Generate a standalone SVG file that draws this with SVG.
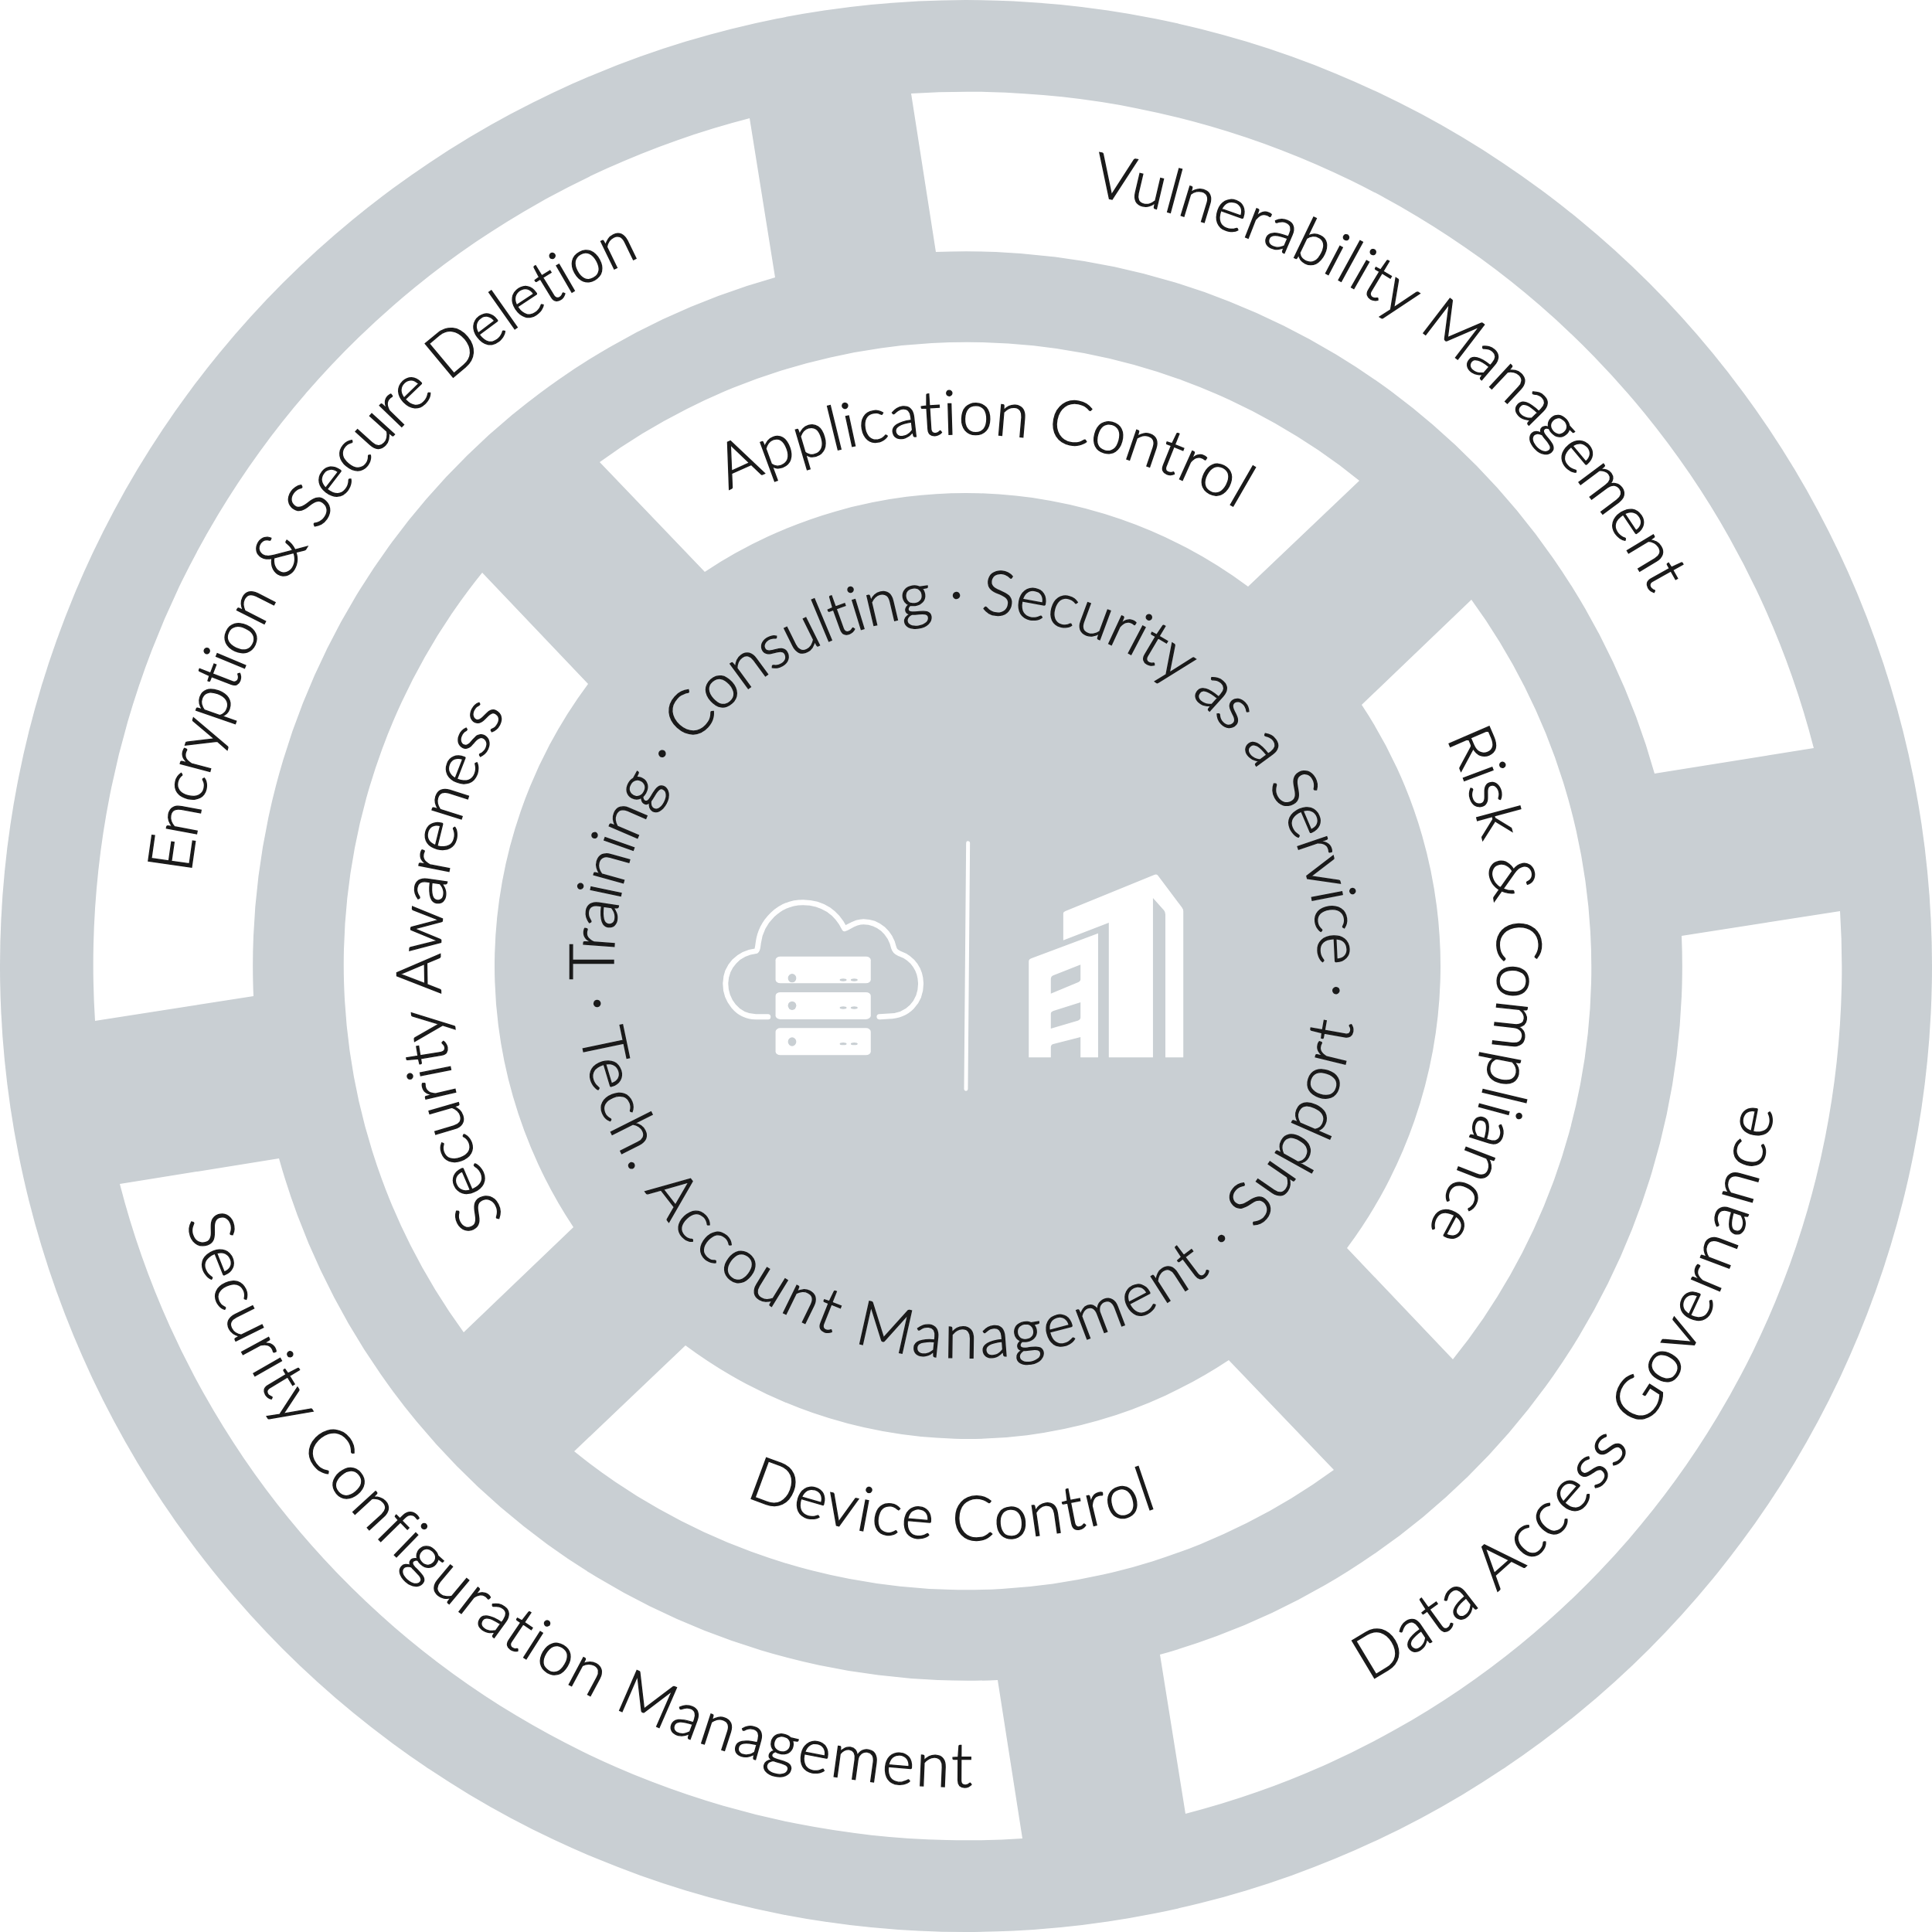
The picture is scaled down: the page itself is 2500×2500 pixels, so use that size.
<svg xmlns="http://www.w3.org/2000/svg" width="2500" height="2500" viewBox="0 0 2500 2500">
<style>
.seg{fill:#fff}
.lbl{font-family:"Lato","Open Sans","Liberation Sans",sans-serif;font-size:80px;font-weight:300;fill:#1a1a1a;stroke:#1a1a1a;stroke-width:1.4px;font-variant-ligatures:none}
.hole{fill:#c9cfd3}
.w{fill:#fff}
.ln{fill:none;stroke:#fff;stroke-linecap:round;stroke-linejoin:round;vector-effect:non-scaling-stroke}
</style>
<defs>
<path id="o1010" d="M1250,240 A1010,1010 0 1 1 1250,2260 A1010,1010 0 1 1 1250,240"/>
<path id="u1062" d="M1250,2312 A1062,1062 0 1 0 1250,188 A1062,1062 0 1 0 1250,2312"/>
<path id="o688" d="M1250,562 A688,688 0 1 1 1250,1938 A688,688 0 1 1 1250,562"/>
<path id="o680" d="M1250,570 A680,680 0 1 1 1250,1930 A680,680 0 1 1 1250,570"/>
<path id="u743" d="M1250,1993 A743,743 0 1 0 1250,507 A743,743 0 1 0 1250,1993"/>
<path id="o456" d="M1250,794 A456,456 0 1 1 1250,1706 A456,456 0 1 1 1250,794"/>
<path id="u507" d="M1250,1757 A507,507 0 1 0 1250,743 A507,507 0 1 0 1250,1757"/>
<path id="outerSeg" d="M1179,121 A1131,1131 0 0 1 2347,968 L2141,1001 A925,925 0 0 0 1211,326 Z"/>
<path id="innerSeg" d="M776,598 A807,807 0 0 1 1759,622 L1615,759 A611,611 0 0 0 912,740 Z"/>
</defs>
<rect width="2500" height="2500" fill="#fff"/>
<circle id="disc" cx="1250" cy="1250" r="1250" fill="#c9cfd3"/>
<g id="vulnerability"><use href="#outerSeg" class="seg"/><text class="lbl" transform="rotate(9.2 1250 1250)"><textPath href="#o1010" textLength="923">Vulnerability Management</textPath></text></g>
<g id="data-access"><use href="#outerSeg" class="seg" transform="translate(2 0) rotate(90 1250 1250)"/><text class="lbl" transform="rotate(-29.4 1250 1250)"><textPath href="#u1062" textLength="937">Data Access Governance</textPath></text></g>
<g id="security-config"><use href="#outerSeg" class="seg" transform="translate(2 0) rotate(180 1250 1250)"/><text class="lbl" transform="rotate(71.9 1250 1250)"><textPath href="#u1062" textLength="1341">Security Configuration Management</textPath></text></g>
<g id="encryption"><use href="#outerSeg" class="seg" transform="translate(2 0) rotate(270 1250 1250)"/><text class="lbl" transform="rotate(-83.2 1250 1250)"><textPath href="#o1010" textLength="1032">Encryption &amp; Secure Deletion</textPath></text></g>
<g id="application-control"><use href="#innerSeg" class="seg"/><text class="lbl" transform="rotate(-26.5 1250 1250)"><textPath href="#o688" textLength="687">Application Control</textPath></text></g>
<g id="risk-compliance"><use href="#innerSeg" class="seg" transform="translate(2 0) rotate(90 1250 1250)"/><text class="lbl" transform="rotate(64.6 1250 1250)"><textPath href="#o688" textLength="663">Risk &amp; Compliance</textPath></text></g>
<g id="device-control"><use href="#innerSeg" class="seg" transform="translate(2 0) rotate(180 1250 1250)"/><text class="lbl" transform="rotate(22.6 1250 1250)"><textPath href="#u743" textLength="546">Device Control</textPath></text></g>
<g id="security-awareness"><use href="#innerSeg" class="seg" transform="translate(2 0) rotate(270 1250 1250)"/><text class="lbl" transform="rotate(-118.7 1250 1250)"><textPath href="#o680" textLength="683">Security Awareness</textPath></text></g>
<g id="services">
<text class="lbl" transform="rotate(-97 1250 1250)"><textPath href="#o456" textLength="1528">· Training · Consulting · Security as a Service ·</textPath></text>
<text class="lbl" transform="rotate(80.2 1250 1250)"><textPath href="#u507" textLength="1431">Tech. Account Management · Support</textPath></text>
</g>
<g id="icons" transform="translate(900 1060) scale(0.4464 0.3333)">
<g id="cloud-server">
<path class="ln" stroke-width="7" d="M210,767 L175,767 C120,767 87,700 87,640 C87,570 125,520 175,512 C180,510 181,490 182,480 C190,400 240,323 312,323 C370,323 410,365 432,425 C445,420 460,398 487,398 C530,398 565,440 575,500 C578,515 585,518 592,522 C630,540 653,585 653,640 C653,710 615,765 560,765 L533,767"/>
<rect class="w" x="232" y="533" width="276" height="104" rx="14"/>
<rect class="w" x="232" y="672" width="276" height="105" rx="14"/>
<rect class="w" x="232" y="811" width="276" height="105" rx="14"/>
<ellipse class="hole" cx="280" cy="617" rx="12" ry="17"/><ellipse class="hole" cx="428" cy="624" rx="10" ry="5"/><ellipse class="hole" cx="460" cy="624" rx="10" ry="5"/>
<ellipse class="hole" cx="280" cy="724" rx="12" ry="17"/><ellipse class="hole" cx="428" cy="732" rx="10" ry="5"/><ellipse class="hole" cx="460" cy="732" rx="10" ry="5"/>
<ellipse class="hole" cx="280" cy="864" rx="12" ry="17"/><ellipse class="hole" cx="428" cy="872" rx="10" ry="5"/><ellipse class="hole" cx="460" cy="872" rx="10" ry="5"/>
</g>
<path id="divider" class="ln" stroke-width="5" d="M790,92 L784,1048"/>
<g id="building">
<path class="w" d="M1066,470 L1066,365 Q1066,360 1072,357 L1330,216 Q1338,212 1341,220 L1410,343 Q1414,350 1414,358 L1414,925 L1362,925 L1362,370 Q1362,360 1358,354 L1326,306 L1326,925 L1198,925 L1198,402 Z"/>
<path class="w" fill-rule="evenodd" d="M966,925 L966,552 Q966,543 974,540 L1167,443 L1167,925 L1116,925 L1116,846 L1037,873 Q1030,876 1030,884 L1030,925 Z M1030,677 L1030,620 Q1030,610 1038,606 L1116,565 L1116,622 Q1116,630 1108,634 Z M1030,813 L1030,755 Q1030,748 1038,744 L1116,711 L1116,770 Q1116,778 1108,782 Z"/>
</g>
</g>
</svg>
